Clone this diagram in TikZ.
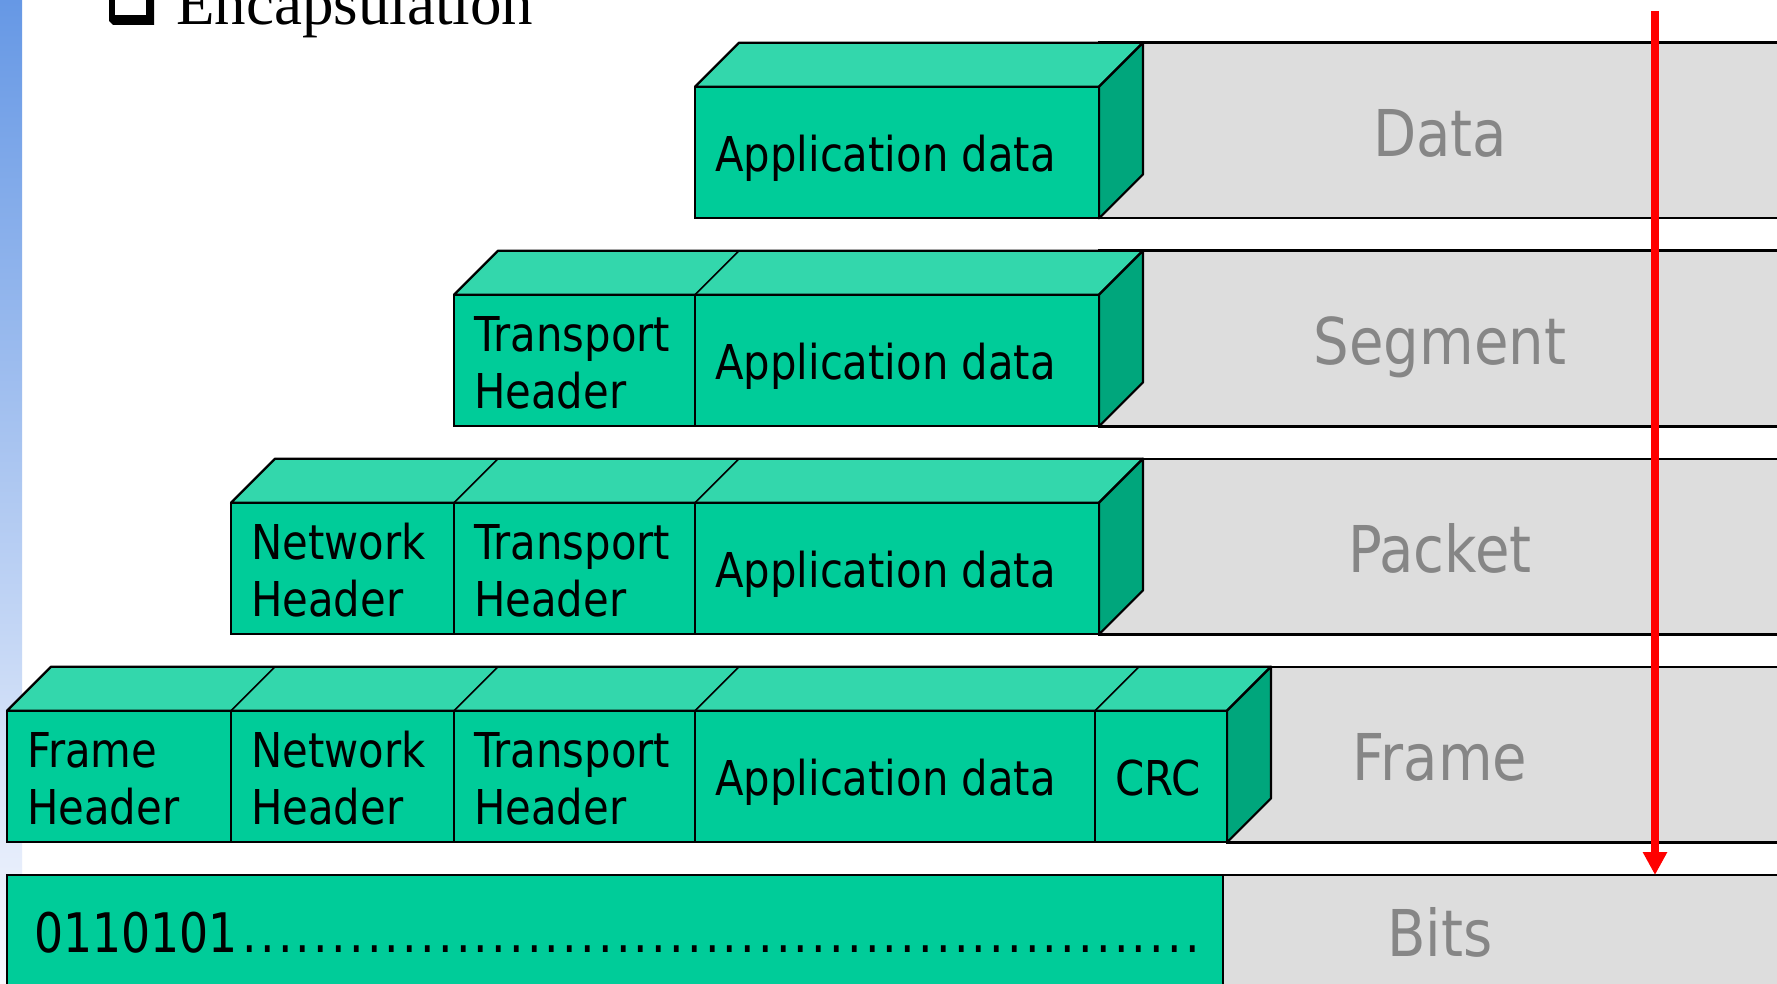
\documentclass[tikz,border=0pt]{standalone}
\usepackage{fontspec}
\setmainfont{Liberation Serif}
\newfontfamily\tahfont[FakeStretch=0.87]{DejaVu Sans}
\newfontfamily\tahdigits[FakeStretch=0.84]{DejaVu Sans}
\usetikzlibrary{arrows.meta}
\definecolor{gfront}{HTML}{00CC99}
\definecolor{gtop}{HTML}{33D7AC}
\definecolor{gside}{HTML}{00A67C}
\definecolor{grayfill}{HTML}{DDDDDD}
\definecolor{graytext}{HTML}{868686}
\definecolor{barTop}{HTML}{6698E5}
\definecolor{barBot}{HTML}{F8F9FE}
\newcommand\lblfont{\tahfont\fontsize{48}{57.6}\selectfont}
\newcommand\graylblfont{\tahfont\fontsize{64.5}{72}\selectfont}
\newcommand\bitsfont{\tahdigits\fontsize{54.5}{60}\selectfont}
\tikzset{
  frontcell/.style={fill=gfront, draw=black, line width=2.2pt},
  topf/.style={fill=gtop, draw=black, line width=2.2pt, line join=round},
  sidef/.style={fill=gside, draw=black, line width=2.2pt, line join=round},
  grayrow/.style={fill=grayfill, draw=black, line width=2.4pt},
  divider/.style={draw=black, line width=1.6pt},
  lbl/.style={inner sep=0pt, anchor=base west, font=\lblfont, align=left},
  glbl/.style={inner sep=0pt, anchor=base, font=\graylblfont, text=graytext},
}
% #1 = top y, #2 = left front x, #3 = right front x
\newcommand\cuberow[3]{%
  \draw[grayrow] (#3,#1) rectangle (1800,#1+175.6);
  \filldraw[topf] (#2,#1+44) -- (#2+44,#1) -- (#3+44,#1) -- (#3,#1+44) -- cycle;
  \filldraw[sidef] (#3,#1+44) -- (#3+44,#1) -- (#3+44,#1+131.6) -- (#3,#1+175.6) -- cycle;
}
\newcommand\frontcell[3]{% #1 top y, #2 left x, #3 right x
  \draw[frontcell] (#2,#1+44) rectangle (#3,#1+175.6);
}
\newcommand\topdiv[2]{% #1 top y, #2 x
  \draw[divider] (#2,#1+44) -- (#2+44,#1);
}
\begin{document}
\begin{tikzpicture}[x=1pt,y=-1pt]
\useasboundingbox (0,0) rectangle (1777,984);
\clip (0,0) rectangle (1777,984);
\fill[white] (0,0) rectangle (1777,984);
% left gradient bar
\shade[top color=barTop, bottom color=barBot] (0,0) rectangle (22,984);
% title
\fill[black] (109,-5) -- (109,21) -- (113,25) -- (154,25) -- (154,-5) -- cycle;
\fill[white] (115,-5) rectangle (146,15);
\node[inner sep=0pt, anchor=base west, font=\fontsize{63}{70}\selectfont] (title) at (176,25) {Encapsulation};

% Row 0: Data
\cuberow{42.7}{695}{1099}
\frontcell{42.7}{695}{1099}
\node[lbl] (app0) at (715,171.7) {Application data};
\node[glbl] (data) at (1440,156.7) {Data};

% Row 1: Segment
\cuberow{250.7}{454}{1099}
\topdiv{250.7}{695}
\frontcell{250.7}{454}{695}
\frontcell{250.7}{695}{1099}
\node[lbl] (tr1) at (474,408.8) {Transport\\Header};
\node[lbl] (app1) at (715,379.7) {Application data};
\node[glbl] (segment) at (1440,364.7) {Segment};

% Row 2: Packet
\cuberow{458.7}{231}{1099}
\topdiv{458.7}{454}
\topdiv{458.7}{695}
\frontcell{458.7}{231}{454}
\frontcell{458.7}{454}{695}
\frontcell{458.7}{695}{1099}
\node[lbl] (nw2) at (251,616.8) {Network\\Header};
\node[lbl] (tr2) at (474,616.8) {Transport\\Header};
\node[lbl] (app2) at (715,587.7) {Application data};
\node[glbl] (packet) at (1440,572.7) {Packet};

% Row 3: Frame
\cuberow{666.7}{7}{1227}
\topdiv{666.7}{231}
\topdiv{666.7}{454}
\topdiv{666.7}{695}
\topdiv{666.7}{1095}
\frontcell{666.7}{7}{231}
\frontcell{666.7}{231}{454}
\frontcell{666.7}{454}{695}
\frontcell{666.7}{695}{1095}
\frontcell{666.7}{1095}{1227}
\node[lbl] (fh3) at (27,824.8) {Frame\\Header};
\node[lbl] (nw3) at (251,824.8) {Network\\Header};
\node[lbl] (tr3) at (474,824.8) {Transport\\Header};
\node[lbl] (app3) at (715,795.7) {Application data};
\node[lbl] (crc3) at (1115,795.7) {CRC};
\node[glbl] (frame) at (1440,780.7) {Frame};

% Row 4: Bits
\draw[grayrow] (1223,875) rectangle (1800,1010);
\draw[frontcell] (7,875) rectangle (1223,1010);
\node[inner sep=0pt, anchor=base west, font=\bitsfont] (bitstr) at (34,952)
  {0110101\hspace{3pt}\foreach \i in {1,...,54}{\makebox[17.78pt][c]{.}}};
\node[glbl] (bits) at (1440,956.7) {Bits};

% red arrow
\coordinate (atop) at (1655,11);
\coordinate (abot) at (1655,875);
\draw[red, line width=8pt, -{Triangle[length=23pt,width=23pt]}] (atop) -- (abot);
\end{tikzpicture}
\end{document}
